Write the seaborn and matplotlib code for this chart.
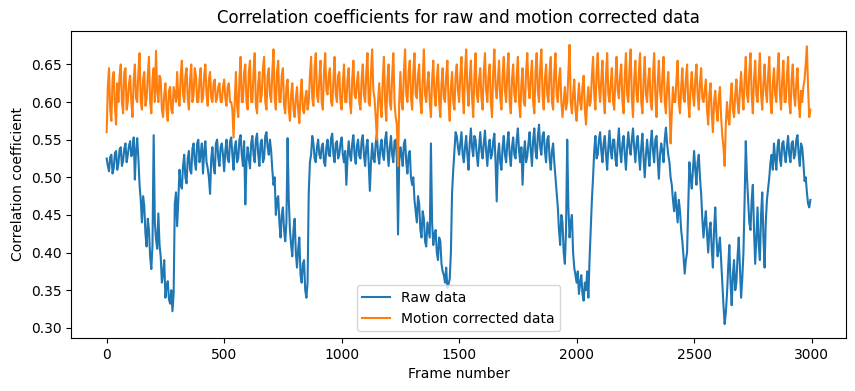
import numpy as np
import pandas as pd
import matplotlib
matplotlib.use("Agg")
import matplotlib.pyplot as plt
import seaborn as sns

# ----- Data -----
# readings on frames 0, 10, 20, ... and on frames 5, 15, 25, ...
frames_a = np.arange(0, 3000, 10)
frames_b = np.arange(5, 3000, 10)

raw_corr_a = [
    0.525, 0.508, 0.53, 0.512, 0.535, 0.518, 0.54, 0.522, 0.545, 0.53,
    0.548, 0.532, 0.497, 0.552, 0.49, 0.44, 0.462, 0.408, 0.43, 0.378,
    0.556, 0.418, 0.452, 0.395, 0.372, 0.34, 0.362, 0.332, 0.322, 0.465,
    0.435, 0.51, 0.485, 0.53, 0.492, 0.535, 0.505, 0.545, 0.51, 0.55,
    0.53, 0.505, 0.548, 0.512, 0.478, 0.54, 0.505, 0.55, 0.515, 0.545,
    0.508, 0.55, 0.52, 0.553, 0.51, 0.548, 0.525, 0.556, 0.515, 0.464,
    0.54, 0.512, 0.555, 0.52, 0.558, 0.515, 0.55, 0.525, 0.56, 0.53,
    0.535, 0.49, 0.45, 0.475, 0.42, 0.46, 0.415, 0.552, 0.43, 0.395,
    0.445, 0.38, 0.42, 0.36, 0.39, 0.34, 0.48, 0.53, 0.545, 0.52,
    0.55, 0.525, 0.545, 0.515, 0.55, 0.528, 0.558, 0.52, 0.548, 0.53,
    0.553, 0.52, 0.49, 0.548, 0.522, 0.556, 0.518, 0.55, 0.525, 0.556,
    0.515, 0.55, 0.482, 0.545, 0.52, 0.557, 0.518, 0.55, 0.523, 0.56,
    0.515, 0.555, 0.52, 0.55, 0.424, 0.54, 0.515, 0.55, 0.505, 0.535,
    0.49, 0.47, 0.44, 0.465, 0.42, 0.445, 0.408, 0.43, 0.545, 0.41,
    0.43, 0.39, 0.415, 0.375, 0.36, 0.353, 0.365, 0.48, 0.535, 0.555,
    0.53, 0.56, 0.52, 0.555, 0.51, 0.565, 0.528, 0.55, 0.515, 0.56,
    0.525, 0.562, 0.515, 0.55, 0.53, 0.558, 0.468, 0.545, 0.51, 0.555,
    0.52, 0.56, 0.515, 0.553, 0.525, 0.565, 0.52, 0.49, 0.548, 0.528,
    0.56, 0.515, 0.565, 0.525, 0.57, 0.53, 0.56, 0.52, 0.555, 0.51,
    0.545, 0.5, 0.46, 0.41, 0.44, 0.385, 0.55, 0.42, 0.45, 0.38,
    0.36, 0.345, 0.37, 0.336, 0.35, 0.34, 0.43, 0.5, 0.555, 0.53,
    0.56, 0.52, 0.555, 0.51, 0.562, 0.525, 0.55, 0.515, 0.565, 0.52,
    0.555, 0.51, 0.56, 0.53, 0.565, 0.52, 0.555, 0.51, 0.558, 0.5,
    0.55, 0.515, 0.562, 0.52, 0.555, 0.498, 0.545, 0.52, 0.566, 0.53,
    0.5, 0.47, 0.48, 0.44, 0.455, 0.415, 0.372, 0.4, 0.52, 0.485,
    0.535, 0.49, 0.53, 0.478, 0.42, 0.455, 0.4, 0.44, 0.38, 0.46,
    0.395, 0.42, 0.36, 0.305, 0.345, 0.41, 0.33, 0.39, 0.36, 0.42,
    0.34, 0.4, 0.548, 0.47, 0.43, 0.49, 0.385, 0.46, 0.39, 0.48,
    0.38, 0.47, 0.5, 0.53, 0.545, 0.51, 0.55, 0.515, 0.548, 0.52,
    0.555, 0.52, 0.548, 0.53, 0.556, 0.515, 0.54, 0.495, 0.48, 0.46,
]

raw_corr_b = [
    0.515, 0.527, 0.505, 0.532, 0.51, 0.537, 0.515, 0.538, 0.52, 0.542,
    0.528, 0.553, 0.535, 0.525, 0.47, 0.475, 0.425, 0.445, 0.395, 0.41,
    0.44, 0.405, 0.41, 0.36, 0.39, 0.355, 0.338, 0.35, 0.345, 0.48,
    0.47, 0.49, 0.515, 0.5, 0.525, 0.51, 0.538, 0.52, 0.545, 0.52,
    0.545, 0.535, 0.52, 0.5, 0.525, 0.515, 0.545, 0.525, 0.54, 0.53,
    0.535, 0.525, 0.548, 0.53, 0.54, 0.52, 0.55, 0.53, 0.548, 0.52,
    0.525, 0.545, 0.53, 0.55, 0.53, 0.545, 0.52, 0.555, 0.54, 0.55,
    0.51, 0.5, 0.47, 0.44, 0.45, 0.43, 0.44, 0.47, 0.41, 0.43,
    0.4, 0.405, 0.37, 0.385, 0.35, 0.36, 0.52, 0.555, 0.525, 0.54,
    0.53, 0.54, 0.52, 0.54, 0.53, 0.552, 0.53, 0.545, 0.525, 0.545,
    0.53, 0.535, 0.525, 0.53, 0.545, 0.53, 0.542, 0.528, 0.548, 0.53,
    0.54, 0.52, 0.52, 0.525, 0.545, 0.53, 0.54, 0.53, 0.55, 0.535,
    0.54, 0.53, 0.548, 0.525, 0.52, 0.53, 0.545, 0.52, 0.53, 0.5,
    0.5, 0.455, 0.475, 0.43, 0.455, 0.415, 0.44, 0.42, 0.44, 0.425,
    0.4, 0.42, 0.385, 0.37, 0.38, 0.358, 0.4, 0.51, 0.56, 0.54,
    0.545, 0.53, 0.54, 0.53, 0.545, 0.54, 0.555, 0.53, 0.54, 0.535,
    0.545, 0.535, 0.54, 0.525, 0.548, 0.52, 0.53, 0.52, 0.54, 0.53,
    0.545, 0.53, 0.54, 0.53, 0.55, 0.535, 0.54, 0.53, 0.52, 0.545,
    0.535, 0.55, 0.535, 0.555, 0.54, 0.555, 0.535, 0.55, 0.525, 0.535,
    0.52, 0.48, 0.43, 0.45, 0.4, 0.43, 0.46, 0.44, 0.4, 0.37,
    0.375, 0.36, 0.345, 0.36, 0.375, 0.39, 0.47, 0.535, 0.525, 0.55,
    0.535, 0.545, 0.53, 0.54, 0.535, 0.55, 0.525, 0.545, 0.535, 0.545,
    0.53, 0.54, 0.54, 0.55, 0.54, 0.545, 0.53, 0.54, 0.525, 0.53,
    0.53, 0.545, 0.535, 0.55, 0.525, 0.53, 0.535, 0.55, 0.545, 0.52,
    0.49, 0.455, 0.46, 0.47, 0.43, 0.395, 0.39, 0.46, 0.5, 0.51,
    0.51, 0.52, 0.5, 0.445, 0.44, 0.425, 0.43, 0.405, 0.43, 0.42,
    0.405, 0.39, 0.33, 0.32, 0.38, 0.36, 0.37, 0.35, 0.395, 0.38,
    0.365, 0.47, 0.5, 0.44, 0.47, 0.43, 0.42, 0.41, 0.45, 0.42,
    0.44, 0.485, 0.52, 0.51, 0.525, 0.54, 0.525, 0.545, 0.53, 0.54,
    0.53, 0.545, 0.525, 0.55, 0.53, 0.545, 0.52, 0.5, 0.465, 0.47,
]

mc_corr_a = [
    0.56, 0.645, 0.575, 0.64, 0.57, 0.6, 0.65, 0.585, 0.645, 0.6,
    0.635, 0.58, 0.65, 0.6, 0.665, 0.59, 0.64, 0.605, 0.66, 0.585,
    0.645, 0.668, 0.6, 0.63, 0.58, 0.625, 0.575, 0.62, 0.585, 0.61,
    0.64, 0.595, 0.655, 0.6, 0.645, 0.59, 0.65, 0.61, 0.635, 0.6,
    0.645, 0.605, 0.65, 0.595, 0.64, 0.6, 0.63, 0.605, 0.625, 0.6,
    0.63, 0.595, 0.625, 0.6, 0.553, 0.64, 0.58, 0.66, 0.6, 0.65,
    0.59, 0.655, 0.6, 0.665, 0.585, 0.64, 0.61, 0.66, 0.59, 0.645,
    0.6, 0.67, 0.59, 0.655, 0.6, 0.645, 0.585, 0.63, 0.575, 0.625,
    0.58, 0.62, 0.572, 0.63, 0.585, 0.615, 0.6, 0.66, 0.595, 0.665,
    0.6, 0.655, 0.59, 0.665, 0.61, 0.645, 0.595, 0.66, 0.6, 0.64,
    0.59, 0.65, 0.6, 0.645, 0.585, 0.655, 0.605, 0.64, 0.59, 0.65,
    0.6, 0.665, 0.595, 0.67, 0.605, 0.55, 0.625, 0.58, 0.66, 0.575,
    0.65, 0.59, 0.665, 0.58, 0.515, 0.64, 0.59, 0.67, 0.6, 0.655,
    0.59, 0.665, 0.605, 0.65, 0.585, 0.67, 0.6, 0.64, 0.58, 0.655,
    0.595, 0.65, 0.58, 0.645, 0.6, 0.655, 0.575, 0.64, 0.59, 0.65,
    0.6, 0.66, 0.585, 0.67, 0.595, 0.655, 0.58, 0.665, 0.6, 0.645,
    0.59, 0.665, 0.6, 0.65, 0.58, 0.67, 0.605, 0.655, 0.59, 0.66,
    0.6, 0.665, 0.585, 0.65, 0.6, 0.66, 0.58, 0.645, 0.595, 0.665,
    0.605, 0.655, 0.585, 0.665, 0.6, 0.67, 0.59, 0.65, 0.6, 0.66,
    0.59, 0.665, 0.6, 0.645, 0.58, 0.62, 0.6, 0.676, 0.585, 0.63,
    0.575, 0.625, 0.59, 0.635, 0.57, 0.62, 0.6, 0.66, 0.59, 0.665,
    0.6, 0.655, 0.585, 0.665, 0.6, 0.645, 0.59, 0.66, 0.605, 0.65,
    0.585, 0.665, 0.6, 0.67, 0.58, 0.655, 0.6, 0.665, 0.585, 0.66,
    0.6, 0.645, 0.59, 0.665, 0.58, 0.655, 0.6, 0.66, 0.585, 0.64,
    0.545, 0.62, 0.6, 0.655, 0.585, 0.645, 0.6, 0.65, 0.58, 0.64,
    0.595, 0.65, 0.59, 0.645, 0.6, 0.63, 0.57, 0.625, 0.56, 0.615,
    0.575, 0.62, 0.555, 0.515, 0.6, 0.57, 0.625, 0.58, 0.63, 0.585,
    0.64, 0.59, 0.66, 0.6, 0.665, 0.585, 0.655, 0.6, 0.665, 0.59,
    0.65, 0.6, 0.66, 0.585, 0.645, 0.6, 0.665, 0.59, 0.655, 0.6,
    0.66, 0.585, 0.65, 0.595, 0.645, 0.58, 0.6, 0.63, 0.674, 0.58,
]

mc_corr_b = [
    0.62, 0.59, 0.63, 0.595, 0.625, 0.635, 0.6, 0.64, 0.59, 0.625,
    0.6, 0.63, 0.605, 0.64, 0.6, 0.63, 0.595, 0.635, 0.6, 0.63,
    0.6, 0.615, 0.635, 0.59, 0.61, 0.59, 0.615, 0.59, 0.62, 0.6,
    0.605, 0.635, 0.61, 0.635, 0.605, 0.63, 0.6, 0.645, 0.6, 0.63,
    0.6, 0.635, 0.61, 0.63, 0.605, 0.625, 0.6, 0.62, 0.6, 0.62,
    0.605, 0.62, 0.6, 0.59, 0.6, 0.595, 0.63, 0.6, 0.64, 0.6,
    0.64, 0.6, 0.64, 0.595, 0.625, 0.6, 0.645, 0.6, 0.635, 0.61,
    0.64, 0.605, 0.64, 0.6, 0.635, 0.595, 0.62, 0.59, 0.61, 0.59,
    0.605, 0.59, 0.61, 0.59, 0.605, 0.59, 0.635, 0.605, 0.645, 0.61,
    0.63, 0.6, 0.64, 0.615, 0.635, 0.6, 0.63, 0.61, 0.635, 0.6,
    0.625, 0.6, 0.63, 0.6, 0.63, 0.61, 0.625, 0.6, 0.63, 0.61,
    0.64, 0.6, 0.64, 0.615, 0.58, 0.6, 0.595, 0.63, 0.6, 0.63,
    0.6, 0.635, 0.6, 0.57, 0.6, 0.6, 0.64, 0.61, 0.64, 0.605,
    0.64, 0.61, 0.635, 0.6, 0.63, 0.61, 0.625, 0.6, 0.63, 0.61,
    0.63, 0.6, 0.625, 0.605, 0.635, 0.6, 0.62, 0.6, 0.635, 0.615,
    0.635, 0.61, 0.64, 0.62, 0.63, 0.605, 0.635, 0.61, 0.63, 0.605,
    0.64, 0.615, 0.635, 0.6, 0.64, 0.62, 0.63, 0.605, 0.635, 0.615,
    0.64, 0.6, 0.63, 0.61, 0.635, 0.6, 0.625, 0.6, 0.64, 0.62,
    0.635, 0.6, 0.64, 0.615, 0.645, 0.61, 0.63, 0.61, 0.64, 0.6,
    0.64, 0.61, 0.63, 0.6, 0.6, 0.59, 0.64, 0.6, 0.61, 0.59,
    0.6, 0.6, 0.62, 0.59, 0.6, 0.595, 0.635, 0.61, 0.64, 0.62,
    0.63, 0.605, 0.635, 0.61, 0.625, 0.6, 0.63, 0.615, 0.635, 0.6,
    0.635, 0.61, 0.645, 0.605, 0.63, 0.61, 0.64, 0.6, 0.63, 0.61,
    0.63, 0.6, 0.635, 0.61, 0.625, 0.615, 0.635, 0.6, 0.62, 0.6,
    0.585, 0.6, 0.63, 0.6, 0.62, 0.605, 0.63, 0.6, 0.62, 0.61,
    0.63, 0.61, 0.625, 0.605, 0.615, 0.59, 0.61, 0.585, 0.6, 0.59,
    0.605, 0.58, 0.54, 0.57, 0.58, 0.605, 0.59, 0.61, 0.6, 0.615,
    0.61, 0.63, 0.61, 0.64, 0.61, 0.63, 0.61, 0.635, 0.61, 0.625,
    0.615, 0.635, 0.6, 0.625, 0.61, 0.64, 0.61, 0.63, 0.6, 0.635,
    0.6, 0.63, 0.61, 0.625, 0.6, 0.615, 0.62, 0.65, 0.62, 0.59,
]

df = pd.concat([
    pd.DataFrame({"frame": frames_a, "raw": raw_corr_a, "mc": mc_corr_a}),
    pd.DataFrame({"frame": frames_b, "raw": raw_corr_b, "mc": mc_corr_b}),
]).sort_values("frame").reset_index(drop=True)

# ----- Plot -----
fig, ax = plt.subplots(figsize=(8.55, 3.91), dpi=100)
fig.subplots_adjust(left=0.0836, right=0.989, bottom=0.1355, top=0.921)

sns.lineplot(data=df, x="frame", y="raw", ax=ax, color="#1f77b4", label="Raw data")
sns.lineplot(data=df, x="frame", y="mc", ax=ax, color="#ff7f0e", label="Motion corrected data")

ax.set_title("Correlation coefficients for raw and motion corrected data")
ax.set_xlabel("Frame number")
ax.set_ylabel("Correlation coefficient")
ax.legend(loc="lower center")

fig.savefig("out.png", dpi=100)
